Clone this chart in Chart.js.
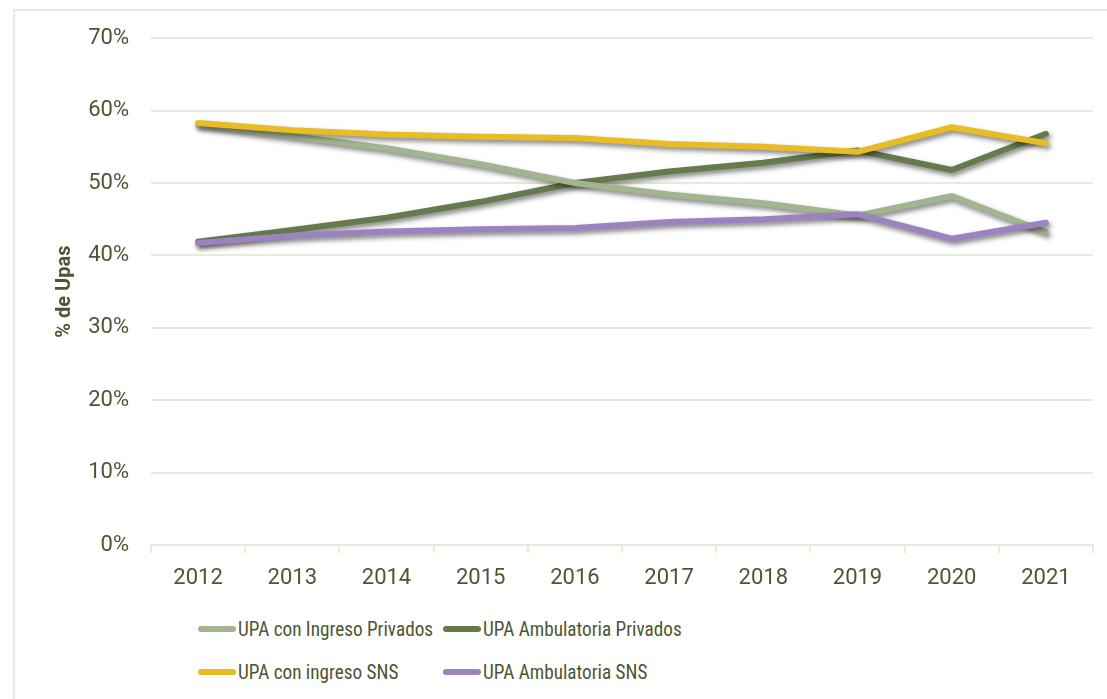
<!DOCTYPE html>
<html>
<head>
<meta charset="utf-8">
<script src="https://cdn.jsdelivr.net/npm/chart.js@4"></script>
<style>
  body { margin: 0; background: #fff; width: 1107px; height: 699px; overflow: hidden; position: relative; font-family: Roboto, sans-serif; }
  .frame { position: absolute; left: 13px; top: 9px; width: 1110px; height: 700px; border: 2px solid #e9ead9; box-sizing: border-box; }
  .wrap { position: absolute; left: 15px; top: 3px; width: 1092px; height: 592px; }
  .legend { position: absolute; left: 198px; top: 607px; display: grid; grid-template-columns: 245px 320px; }
  .legend-item { display: flex; align-items: center; height: 43px; font-family: "Liberation Sans Narrow", "Roboto Condensed", Roboto, sans-serif; font-size: 21px; color: #4d5632; white-space: nowrap; }
  .legend-item span.mark { flex-shrink: 0; display: inline-block; width: 38px; height: 6px; border-radius: 3px; margin-right: 2px; }
  .legend-item span.txt { display: inline-block; transform: scaleX(0.915); transform-origin: left center; }
</style>
</head>
<body>
<div class="frame"></div>
<div class="wrap"><canvas id="chart"></canvas></div>
<div class="legend" id="legend"></div>
<script>
const years = ["2012", "2013", "2014", "2015", "2016", "2017", "2018", "2019", "2020", "2021"];
const ingresoPrivados = [58.1, 56.5, 54.8, 52.6, 50.0, 48.4, 47.2, 45.5, 48.2, 43.2];
const ambulatoriaPrivados = [41.9, 43.5, 45.2, 47.4, 50.0, 51.6, 52.8, 54.5, 51.8, 56.8];
const ingresoSNS = [58.3, 57.3, 56.7, 56.4, 56.2, 55.4, 55.0, 54.3, 57.7, 55.5];
const ambulatoriaSNS = [41.7, 42.7, 43.3, 43.6, 43.8, 44.6, 45.0, 45.7, 42.3, 44.5];

const textColor = "#4d5632";
const gridColor = "#e9ead9";

// shadow under the lines, like the office chart
const shadowPlugin = {
  id: "lineShadow",
  beforeDatasetsDraw(chart) {
    const ctx = chart.ctx;
    ctx.save();
    ctx.shadowColor = "rgba(0,0,0,0.5)";
    ctx.shadowBlur = 5;
    ctx.shadowOffsetX = 2;
    ctx.shadowOffsetY = 3;
  },
  afterDatasetsDraw(chart) {
    chart.ctx.restore();
  },
};

const datasets = [
  { label: "UPA con Ingreso Privados", data: ingresoPrivados, borderColor: "#a3b58e", order: 2 },
  { label: "UPA Ambulatoria Privados", data: ambulatoriaPrivados, borderColor: "#667a4e", order: 3 },
  { label: "UPA con ingreso SNS", data: ingresoSNS, borderColor: "#e8bc25", order: 0 },
  { label: "UPA Ambulatoria SNS", data: ambulatoriaSNS, borderColor: "#9c83c0", order: 1 },
].map((d) => ({
  ...d,
  borderWidth: 6,
  borderCapStyle: "round",
  borderJoinStyle: "round",
  pointRadius: 0,
  tension: 0,
  fill: false,
}));

new Chart(document.getElementById("chart"), {
  type: "line",
  data: { labels: years, datasets: datasets },
  plugins: [shadowPlugin],
  options: {
    responsive: true,
    maintainAspectRatio: false,
    animation: false,
    layout: { padding: { top: 0, right: 14, left: 0, bottom: 0 } },
    plugins: {
      legend: { display: false },
      tooltip: { enabled: false },
    },
    scales: {
      x: {
        offset: true,
        grid: { display: true, drawOnChartArea: false, drawTicks: true, tickLength: 8, color: gridColor, lineWidth: 2, offset: true },
        border: { display: true, color: gridColor, width: 2 },
        ticks: { color: textColor, font: { family: "Roboto", size: 22 }, padding: 12 },
        afterFit(scale) { scale.height = 50; },
      },
      y: {
        min: 0,
        max: 70,
        ticks: {
          stepSize: 10,
          color: textColor,
          font: { family: "Roboto", size: 22 },
          padding: 22,
          callback: (v) => v + "%",
        },
        grid: { color: gridColor, lineWidth: 2, drawTicks: false },
        border: { display: false },
        title: {
          display: true,
          text: "% de Upas",
          color: textColor,
          font: { family: "Roboto", size: 20, weight: "bold" },
          padding: { top: 38, bottom: 0 },
        },
        afterFit(scale) { scale.width = 136; },
      },
    },
  },
});

const legend = document.getElementById("legend");
datasets.forEach((d) => {
  const item = document.createElement("div");
  item.className = "legend-item";
  const mark = document.createElement("span");
  mark.className = "mark";
  mark.style.background = d.borderColor;
  const txt = document.createElement("span");
  txt.className = "txt";
  txt.textContent = d.label;
  item.appendChild(mark);
  item.appendChild(txt);
  legend.appendChild(item);
});
</script>
</body>
</html>
